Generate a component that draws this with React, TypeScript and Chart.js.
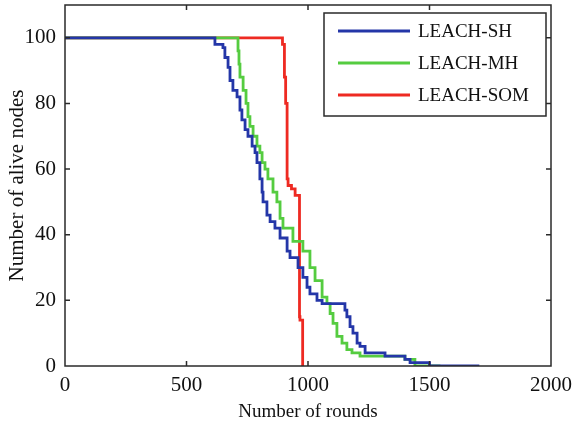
import React, { useEffect, useRef } from "react";
import { Chart, registerables } from "chart.js";

Chart.register(...registerables);

// ---- data (rounds, alive nodes) ----
const shRounds = [0, 617, 650, 658, 671, 679, 691, 708, 720, 728, 741, 753, 770, 782, 790, 802, 811, 815, 831, 844, 864, 885, 914, 926, 959, 979, 996, 1008, 1037, 1058, 1078, 1152, 1160, 1173, 1185, 1202, 1214, 1235, 1317, 1399, 1420, 1500, 1705];
const shAlive = [100, 100, 98, 97, 94, 91, 87, 84, 82, 78, 75, 72, 70, 67, 65, 62, 57, 53, 50, 46, 44, 42, 39, 35, 33, 30, 27, 24, 22, 20, 19, 19, 17, 15, 12, 10, 7, 6, 4, 3, 2, 1, 0];

const mhRounds = [0, 712, 716, 720, 733, 745, 753, 761, 774, 790, 802, 811, 823, 835, 856, 872, 885, 897, 914, 938, 979, 1008, 1029, 1058, 1078, 1091, 1103, 1119, 1140, 1160, 1181, 1214, 1399, 1440, 1545];
const mhAlive = [100, 100, 96, 92, 88, 84, 80, 76, 73, 70, 67, 65, 62, 60, 57, 53, 50, 45, 42, 42, 38, 35, 30, 26, 21, 19, 16, 13, 9, 7, 5, 4, 3, 2, 0];

const somRounds = [0, 895, 903, 908, 914, 918, 932, 947, 965, 967, 978, 980];
const somAlive = [100, 100, 98, 88, 80, 57, 55, 54, 52, 15, 14, 0];

const seriesLabels = ["LEACH-SH", "LEACH-MH", "LEACH-SOM"];
const seriesColors = ["#2436a8", "#55cc40", "#ee2a22"];

const xTitle = "Number of rounds";
const yTitle = "Number of alive nodes";

const FONT = '"Liberation Serif", "Times New Roman", serif';
const TEXT = "#111111";

const toPoints = (xs: number[], ys: number[]) => xs.map((x, i) => ({ x, y: ys[i] }));

const boxPlugin = {
  id: "matlabBox",
  afterDatasetsDraw(chart: any) {
    const ctx = chart.ctx;
    const { left, right, top, bottom } = chart.chartArea;
    const xs = chart.scales.x;
    const ys = chart.scales.y;
    ctx.save();
    ctx.strokeStyle = "#2a2a2a";
    ctx.lineWidth = 1.5;
    ctx.strokeRect(left, top, right - left, bottom - top);
    const tl = 5;
    ctx.beginPath();
    xs.ticks.forEach((t: any) => {
      const p = xs.getPixelForValue(t.value);
      if (p <= left + 1 || p >= right - 1) return;
      ctx.moveTo(p, bottom);
      ctx.lineTo(p, bottom - tl);
      ctx.moveTo(p, top);
      ctx.lineTo(p, top + tl);
    });
    ys.ticks.forEach((t: any) => {
      const p = ys.getPixelForValue(t.value);
      if (p >= bottom - 1 || p <= top + 1) return;
      ctx.moveTo(left, p);
      ctx.lineTo(left + tl, p);
      ctx.moveTo(right, p);
      ctx.lineTo(right - tl, p);
    });
    ctx.stroke();

    // legend (MATLAB style, inside upper right)
    const bx = 324, by = 13, bw = right - 5 - bx, bh = 103;
    ctx.fillStyle = "#ffffff";
    ctx.fillRect(bx, by, bw, bh);
    ctx.strokeStyle = "#2a2a2a";
    ctx.lineWidth = 1.5;
    ctx.strokeRect(bx, by, bw, bh);
    ctx.font = `19px ${FONT}`;
    ctx.textBaseline = "middle";
    ctx.textAlign = "left";
    chart.data.datasets.forEach((ds: any, i: number) => {
      const yy = by + 18 + i * 32;
      ctx.strokeStyle = ds.borderColor;
      ctx.lineWidth = 3;
      ctx.beginPath();
      ctx.moveTo(bx + 14, yy);
      ctx.lineTo(bx + 86, yy);
      ctx.stroke();
      ctx.fillStyle = TEXT;
      ctx.fillText(ds.label, bx + 94, yy + 1);
    });
    ctx.restore();
  },
};

export default function App() {
  const ref = useRef<HTMLCanvasElement | null>(null);
  useEffect(() => {
    if (!ref.current) return;
    const series = [
      toPoints(shRounds, shAlive),
      toPoints(mhRounds, mhAlive),
      toPoints(somRounds, somAlive),
    ];
    const chart = new Chart(ref.current, {
      type: "line",
      data: {
        datasets: series.map((d, i) => ({
          label: seriesLabels[i],
          data: d,
          borderColor: seriesColors[i],
          backgroundColor: seriesColors[i],
          borderWidth: 2.8,
          pointRadius: 0,
          stepped: "after" as const,
          fill: false,
        })),
      },
      options: {
        animation: false,
        responsive: false,
        maintainAspectRatio: false,
        layout: { padding: { left: 0, right: 23, top: 5, bottom: 0 } },
        plugins: { legend: { display: false }, tooltip: { enabled: false } },
        scales: {
          x: {
            type: "linear",
            min: 0,
            max: 2000,
            ticks: {
              stepSize: 500,
              padding: 7,
              color: TEXT,
              font: { family: FONT, size: 21 },
              maxRotation: 0,
              callback: (v: any) => String(v),
            },
            grid: { display: false, drawTicks: false },
            border: { display: false },
            title: { display: true, text: xTitle, color: TEXT, font: { family: FONT, size: 19 }, padding: { top: 3, bottom: 3 } },
            afterFit: (s: any) => {
              s.height = 60;
              s.paddingLeft = 0;
              s.paddingRight = 0;
            },
          },
          y: {
            type: "linear",
            min: 0,
            max: 110,
            ticks: {
              stepSize: 20,
              padding: 9,
              color: TEXT,
              font: { family: FONT, size: 21 },
              callback: (v: any) => String(v),
            },
            afterBuildTicks: (s: any) => { s.ticks = s.ticks.filter((t: any) => t.value <= 100); },
            grid: { display: false, drawTicks: false },
            border: { display: false },
            title: { display: true, text: yTitle, color: TEXT, font: { family: FONT, size: 21 }, padding: { top: 5, bottom: 5 } },
            afterFit: (s: any) => {
              s.width = 65;
              s.paddingTop = 0;
              s.paddingBottom = 0;
            },
          },
        },
      },
      plugins: [boxPlugin],
    });
    return () => chart.destroy();
  }, []);
  return (
    <div style={{ position: "fixed", left: 0, top: 0, width: 574, height: 426, background: "#fff" }}>
      <canvas ref={ref} width={574} height={426} style={{ width: 574, height: 426, display: "block" }} />
    </div>
  );
}
